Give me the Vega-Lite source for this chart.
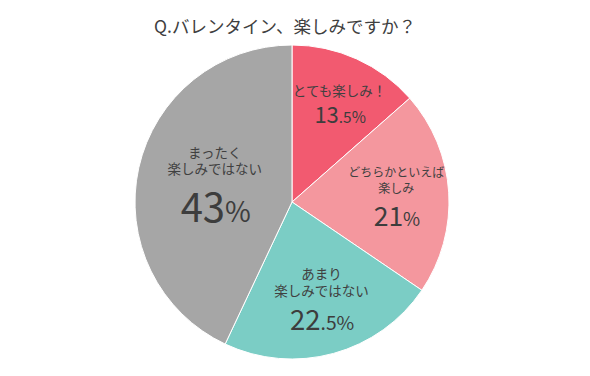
{
  "$schema": "https://vega.github.io/schema/vega-lite/v6.json",
  "width": 314,
  "height": 314,
  "autosize": {"type": "none"},
  "padding": {"left": 135, "top": 45, "right": 141, "bottom": 17},
  "background": "white",
  "config": {"view": {"stroke": null}, "font": "Noto Sans CJK JP"},
  "title": {
    "text": "Q.バレンタイン、楽しみですか？",
    "fontSize": 17.5,
    "fontWeight": "normal",
    "color": "#404040",
    "font": "Noto Sans CJK JP",
    "anchor": "middle",
    "offset": 7,
    "dx": -7
  },
  "data": {
    "values": [
      {"label": "とても楽しみ！", "pct": 13.5, "order": 1},
      {"label": "どちらかといえば\n楽しみ", "pct": 21, "order": 2},
      {"label": "あまり\n楽しみではない", "pct": 22.5, "order": 3},
      {"label": "まったく\n楽しみではない", "pct": 43, "order": 4}
    ]
  },
  "transform": [
    {"calculate": "toString(floor(datum.pct))", "as": "intText"},
    {"calculate": "datum.pct != floor(datum.pct) ? '.' + toString(round((datum.pct - floor(datum.pct)) * 10)) + '%' : '%'", "as": "sufText"},
    {"calculate": "indexof(datum.label, '\\n') >= 0 ? 2 : 1", "as": "nLines"}
  ],
  "encoding": {
    "theta": {"field": "pct", "type": "quantitative", "stack": true},
    "order": {"field": "order", "type": "quantitative"}
  },
  "layer": [
    {
      "mark": {"type": "arc", "outerRadius": 157, "stroke": "#ffffff", "strokeWidth": 1},
      "encoding": {
        "color": {
          "field": "label",
          "type": "nominal",
          "sort": {"field": "order"},
          "scale": {"range": ["#f25a70", "#f4979e", "#7bcdc5", "#a6a6a6"]},
          "legend": null
        }
      }
    },
    {
      "mark": {
        "type": "text",
        "radius": {"expr": "120 - 0.88 * datum.pct"},
        "dx": 3,
        "lineBreak": "\n",
        "lineHeight": 16.5,
        "baseline": "bottom",
        "color": "#404040",
        "font": "Noto Sans CJK JP",
        "fontSize": {"expr": "indexof(datum.label, '\\n') >= 8 ? 12 : 13.5"},
        "dy": {"expr": "(7 + (17 + (datum.pct - 13.5) * 0.244) + (datum.nLines - 1) * 16.5 + 0.72 * (22 + (datum.pct - 13.5) * 0.6102)) / 2 - 0.72 * (22 + (datum.pct - 13.5) * 0.6102) - (17 + (datum.pct - 13.5) * 0.244) + 8 - (datum.nLines - 1) * 16.5"}
      },
      "encoding": {"text": {"field": "label", "type": "nominal"}}
    },
    {
      "mark": {
        "type": "text",
        "radius": {"expr": "120 - 0.88 * datum.pct"},
        "align": "right",
        "baseline": "alphabetic",
        "color": "#3d3d3d",
        "font": "Noto Sans CJK JP",
        "dx": {"expr": "3 + (length(datum.intText) * 0.55 * (22 + (datum.pct - 13.5) * 0.6102) - (datum.sufText == '%' ? 0.84 : 1.66) * 0.7 * (22 + (datum.pct - 13.5) * 0.6102)) / 2"},
        "dy": {"expr": "(7 + (17 + (datum.pct - 13.5) * 0.244) + (datum.nLines - 1) * 16.5 + 0.72 * (22 + (datum.pct - 13.5) * 0.6102)) / 2"}
      },
      "encoding": {
        "text": {"field": "intText", "type": "nominal"},
        "size": {"field": "pct", "type": "quantitative", "scale": {"domain": [13.5, 43], "range": [22, 40]}, "legend": null}
      }
    },
    {
      "mark": {
        "type": "text",
        "radius": {"expr": "120 - 0.88 * datum.pct"},
        "align": "left",
        "baseline": "alphabetic",
        "color": "#3d3d3d",
        "font": "Noto Sans CJK JP",
        "dx": {"expr": "3 + (length(datum.intText) * 0.55 * (22 + (datum.pct - 13.5) * 0.6102) - (datum.sufText == '%' ? 0.84 : 1.66) * 0.7 * (22 + (datum.pct - 13.5) * 0.6102)) / 2"},
        "dy": {"expr": "(7 + (17 + (datum.pct - 13.5) * 0.244) + (datum.nLines - 1) * 16.5 + 0.72 * (22 + (datum.pct - 13.5) * 0.6102)) / 2"}
      },
      "encoding": {
        "text": {"field": "sufText", "type": "nominal"},
        "size": {"field": "pct", "type": "quantitative", "scale": {"domain": [13.5, 43], "range": [15.4, 28]}, "legend": null}
      }
    }
  ],
  "resolve": {"scale": {"size": "independent"}}
}
